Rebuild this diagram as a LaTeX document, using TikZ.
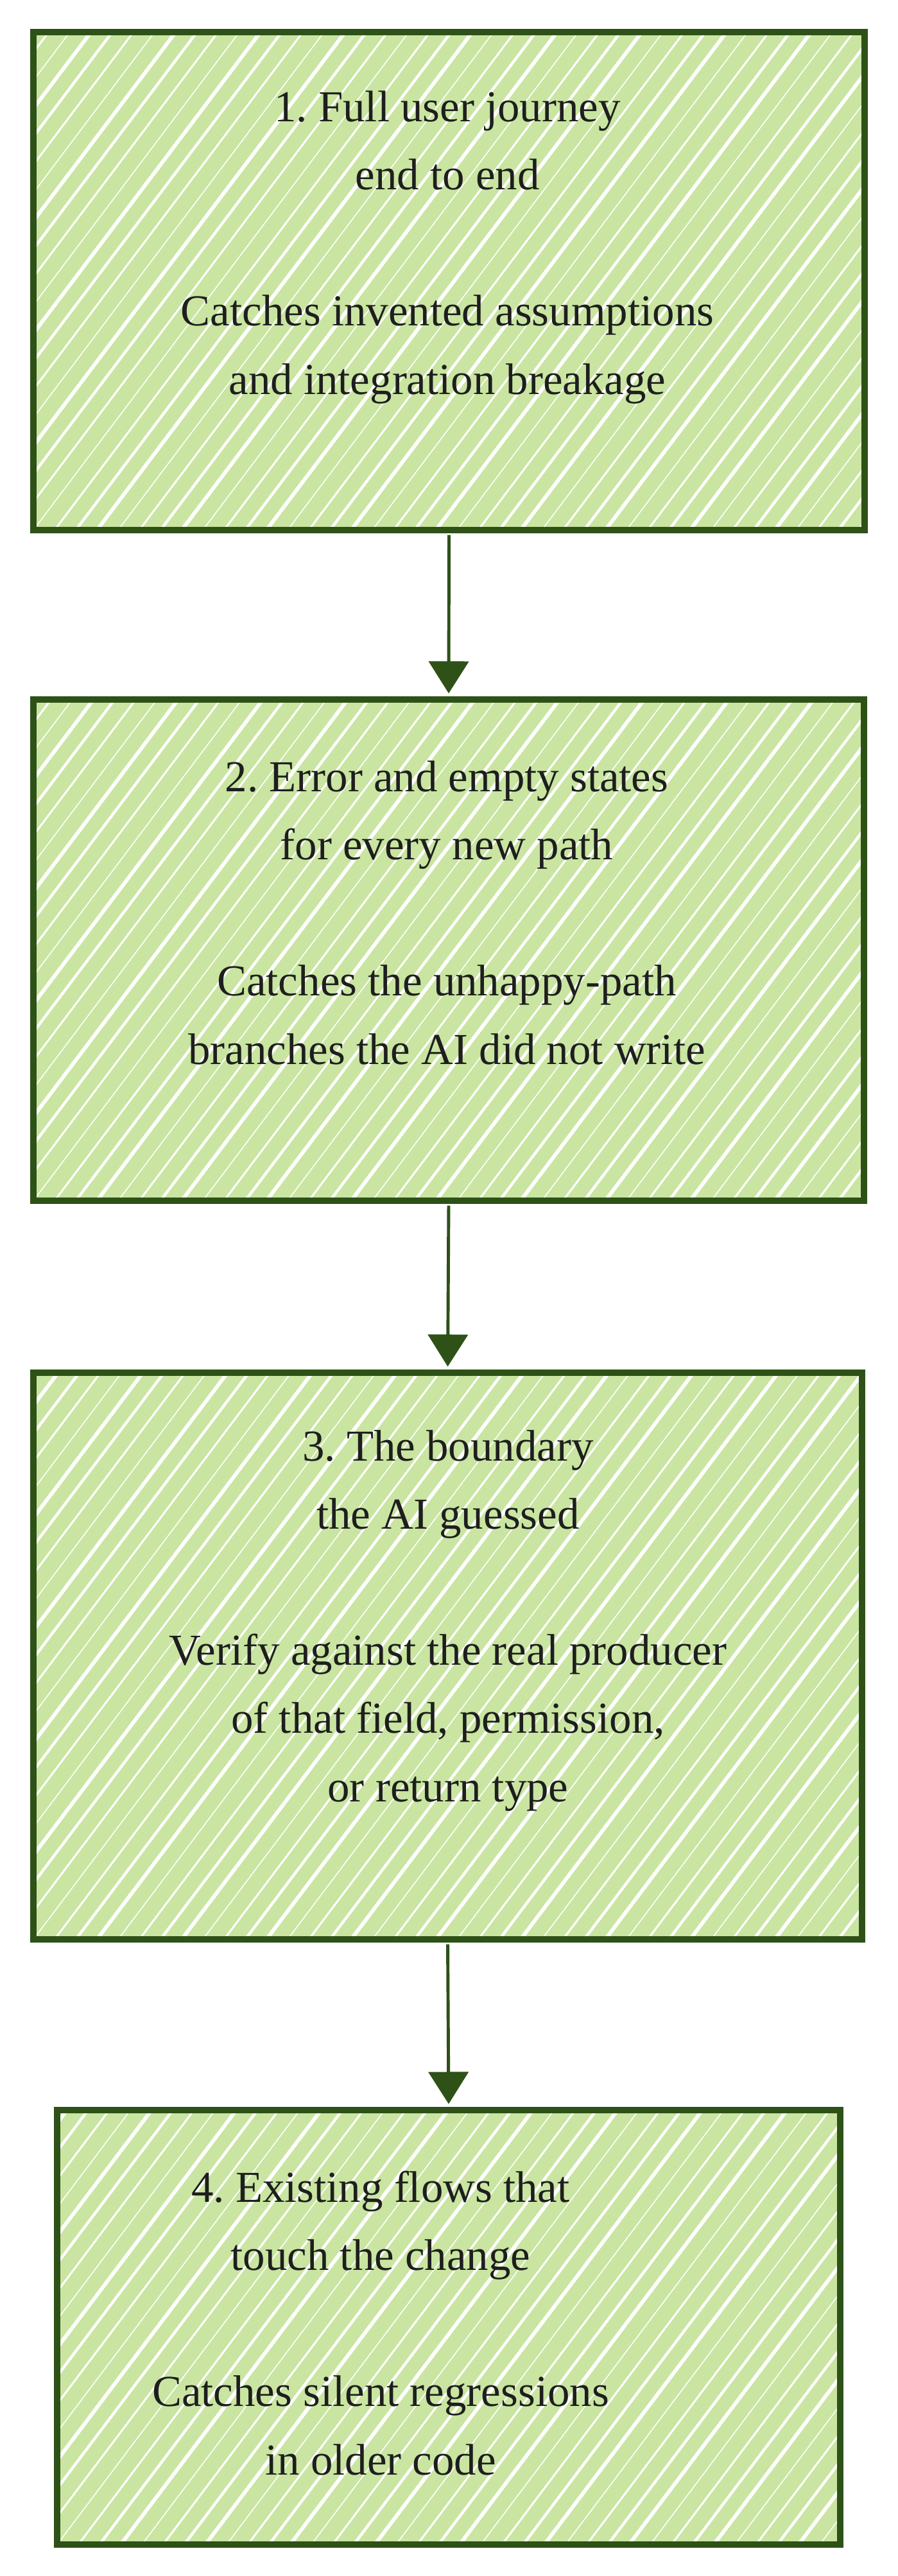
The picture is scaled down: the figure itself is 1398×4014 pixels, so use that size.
\documentclass[tikz,border=0pt]{standalone}
\usepackage{fontspec}
\setmainfont{Liberation Serif}
\usepackage{xcolor}
\usetikzlibrary{arrows.meta, positioning}

\definecolor{leafFill}{HTML}{C9E5A1}
\definecolor{leafLine}{HTML}{2E5118}
\definecolor{inkText}{HTML}{1E1E1E}
\frenchspacing

\begin{document}
\begin{tikzpicture}[x=0.1mm, y=-0.1mm,
    >={Triangle[length=5mm, width=6.2mm]},
    hatching/.style={path picture={
        \foreach \k [evaluate=\k as \w using {0.45+0.4*mod(abs(\k)*5,4)}] in {-26,...,42}
            \draw[white, line width=\w pt]
                ([xshift=\k*3.3mm]path picture bounding box.south west) -- ++(53:13cm);
    }},
    card/.style={draw=leafLine, line width=2.6pt, fill=leafFill, hatching, inner sep=0pt},
    cardtext/.style={anchor=base, align=center, text=inkText,
        font=\fontsize{19.6}{30.2}\selectfont},
    flow/.style={->, draw=leafLine, line width=1.4pt, shorten <=0.3mm, shorten >=0.5mm}]

    % =================================================================
    % 1. KHUNG HINH
    % =================================================================
    \useasboundingbox (0,0) rectangle (1398,4014);

    % =================================================================
    % 2. BON THE (HOP) KIEM THU
    % =================================================================
    \node[card, minimum width=129.5mm, minimum height=77.6mm] (b1) at (699.5,438) {};
    \node[card, minimum width=129.4mm, minimum height=78.1mm] (b2) at (699,1480.5) {};
    \node[card, minimum width=129.1mm, minimum height=88.3mm] (b3) at (697.5,2580.5) {};
    \node[card, minimum width=122.0mm, minimum height=67.7mm] (b4) at (699,3626.5) {};

    % Noi dung tung the (moc = dong cuoi)
    \node[cardtext] (t1) at (697,614)
        {1. Full user journey\\end to end\\\mbox{}\\Catches invented assumptions\\and integration breakage};
    \node[cardtext] (t2) at (696,1658)
        {2. Error and empty states\\for every new path\\\mbox{}\\Catches the unhappy-path\\branches the AI did not write};
    \node[cardtext] (t3) at (698,2807)
        {3. The boundary\\the AI guessed\\\mbox{}\\Verify against the real producer\\of that field, permission,\\or return type};
    \node[cardtext] (t4) at (593,3856)
        {4. Existing flows that\\touch the change\\\mbox{}\\Catches silent regressions\\in older code};

    % =================================================================
    % 3. MUI TEN NOI CAC THE
    % =================================================================
    \draw[flow] (b1.south) -- (b2.north);
    \draw[flow] (b2.south) -- (b3.north);
    \draw[flow] (b3.south) -- (b4.north);

\end{tikzpicture}
\end{document}
